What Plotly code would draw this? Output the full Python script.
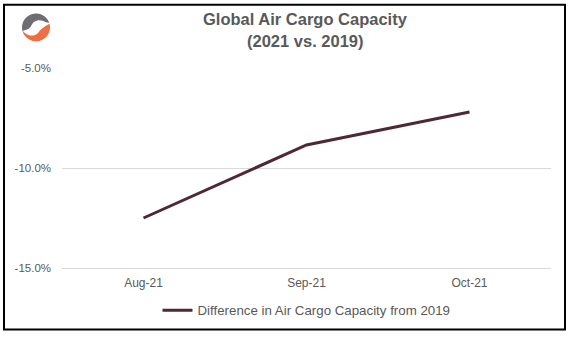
import math
import plotly.graph_objects as go

categories = ["Aug-21", "Sep-21", "Oct-21"]
values = [-12.5, -8.85, -7.2]
series_name = "Difference in Air Cargo Capacity from 2019"
title_lines = ["Global Air Cargo Capacity", "(2021 vs. 2019)"]
y_ticks = [-15, -10, -5]
y_tick_labels = ["-15.0%", "-10.0%", "-5.0%"]

W, H = 570, 338
L, R, T, B = 62, 19, 68, 68
PW, PH = W - L - R, H - T - B


def px(x):
    return (x - L) / PW


def py(y):
    return (H - B - y) / PH


def crescent(cx, cy, r, a0, a1, w, skew, n=48):
    outer, inner = [], []
    for i in range(n + 1):
        t = i / n
        a = math.radians(a0 + (a1 - a0) * t)
        tt = t ** skew
        th = w * math.sin(math.pi * tt) ** 0.45
        outer.append((cx + r * math.cos(a), cy - r * math.sin(a)))
        inner.append((cx + (r - th) * math.cos(a), cy - (r - th) * math.sin(a)))
    pts = outer + inner[::-1]
    s = "M " + " L ".join(f"{px(x):.5f},{py(y):.5f}" for x, y in pts) + " Z"
    return s


fig = go.Figure()
fig.add_trace(go.Scatter(
    x=categories, y=values, mode="lines", name=series_name,
    line=dict(color="#4f2836", width=3),
))

font = "Arial, Liberation Sans, sans-serif"
fig.update_layout(
    width=W, height=H,
    margin=dict(l=L, r=R, t=T, b=B),
    paper_bgcolor="white", plot_bgcolor="white",
    showlegend=True,
    legend=dict(orientation="h", x=0.5, xanchor="center", y=py(313), yanchor="middle",
                font=dict(family=font, size=13.3, color="#595959"), itemwidth=30,
                bgcolor="rgba(0,0,0,0)"),
    xaxis=dict(type="category", range=[-0.5, 2.5], showgrid=False, zeroline=False,
               showline=True, linecolor="#d9d9d9", linewidth=1, ticks="",
               tickfont=dict(family=font, size=12, color="#595959"), ticklabelstandoff=4),
    yaxis=dict(range=[-15, -5], tickvals=y_ticks, ticktext=y_tick_labels,
               showgrid=True, gridcolor="#d9d9d9", gridwidth=1, zeroline=False,
               showline=False, ticks="",
               tickfont=dict(family=font, size=11.5, color="#595959"), ticklabelstandoff=10),
)

for i, (txt, yy) in enumerate(zip(title_lines, [19, 41])):
    fig.add_annotation(text=f"<b>{txt}</b>", xref="paper", yref="paper",
                       x=px(305), y=py(yy), xanchor="center", yanchor="middle",
                       showarrow=False, font=dict(family=font, size=16.5, color="#595959"))

# outer border
fig.add_shape(type="rect", xref="paper", yref="paper",
              x0=px(4), x1=px(565), y0=py(332), y1=py(4),
              line=dict(color="black", width=2), fillcolor="rgba(0,0,0,0)", layer="above")

# logo
fig.add_shape(type="path", xref="paper", yref="paper",
              path=crescent(36, 27, 14, 195, 20, 9, 0.5),
              fillcolor="#6d6e71", line=dict(width=0), layer="above")
fig.add_shape(type="path", xref="paper", yref="paper",
              path=crescent(36, 27, 14, 192, 375, 9, 2.0),
              fillcolor="#ef6f43", line=dict(width=0), layer="above")

fig.write_html("out.html")
